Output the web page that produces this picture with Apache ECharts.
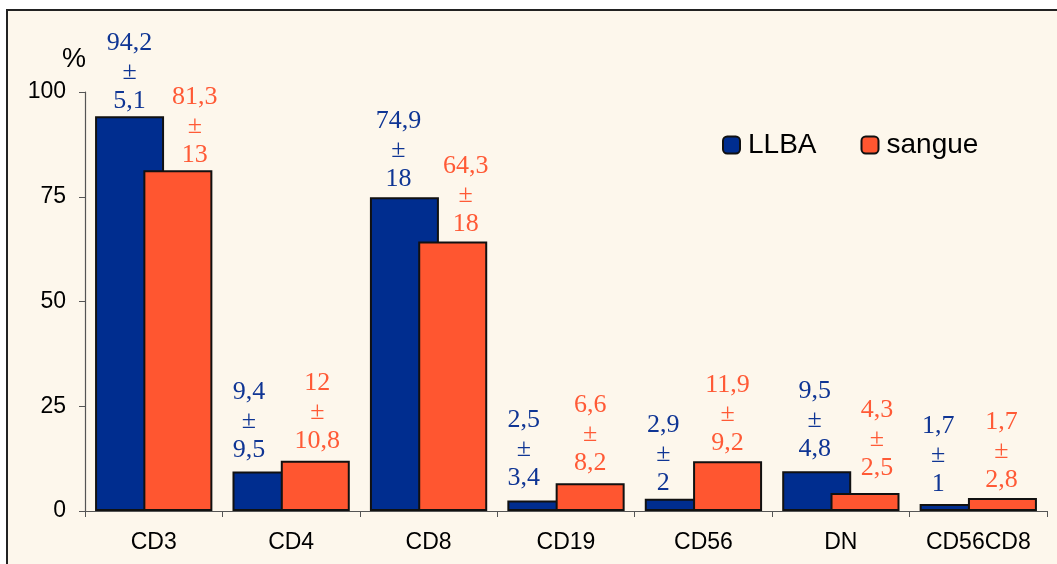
<!DOCTYPE html>
<html>
<head>
<meta charset="utf-8">
<script src="https://cdn.jsdelivr.net/npm/echarts@6/dist/echarts.min.js"></script>
<style>
html,body{margin:0;padding:0;background:#ffffff;}
#c{width:1057px;height:564px;}
</style>
</head>
<body>
<div id="c"></div>
<script>
const categories = ['CD3', 'CD4', 'CD8', 'CD19', 'CD56', 'DN', 'CD56CD8'];
const llbaMean = [94.2, 9.4, 74.9, 2.5, 2.9, 9.5, 1.7];
const llbaSd = [5.1, 9.5, 18, 3.4, 2, 4.8, 1];
const sangueMean = [81.3, 12, 64.3, 6.6, 11.9, 4.3, 1.7];
const sangueSd = [13, 10.8, 18, 8.2, 9.2, 2.5, 2.8];
// bar heights as drawn in the picture
const llbaBars = [94.2, 9.4, 74.9, 2.5, 2.9, 9.5, 1.7];
const sangueBars = [81.3, 12, 64.3, 6.6, 11.9, 4.3, 3.1];
const yTicks = [0, 25, 50, 75, 100];

// label placement (style only)
const llbaLabelOffsets = [[0,2],[-18,-4],[-6,0],[-18,-5],[-16,2],[-2,-5],[-16,-2]];
const sangueLabelOffsets = [[17,2],[2,-2],[13,0],[0,-3],[0,0],[12,-7],[-1,0]];

const fmt = v => String(v).replace('.', ',');

const BLUE = '#002d8f', ORANGE = '#ff5630';
const BLUE_T = '#0f3594', ORANGE_T = '#ff5a36';

function buildData(bars, offs) {
  return bars.map((v, i) => ({ value: v, label: { offset: offs[i] } }));
}

const chart = echarts.init(document.getElementById('c'));
chart.setOption({
  backgroundColor: '#ffffff',
  animation: false,
  graphic: [
    { type: 'rect', z: -100, silent: true,
      shape: { x: 7, y: 10, width: 1070, height: 570 },
      style: { fill: '#fdf7ec', stroke: '#222', lineWidth: 2 } },
    { type: 'text', left: 62, top: 46, z: 10,
      style: { text: '%', font: '27px "Liberation Sans", Arial', fill: '#000' } }
  ],
  legend: {
    left: 717, top: 126,
    itemWidth: 17, itemHeight: 17, itemGap: 44,
    textStyle: { fontSize: 28, fontFamily: '"Liberation Sans", Arial', color: '#000', padding: [0,0,0,3] },
    data: ['LLBA', 'sangue']
  },
  grid: { left: 85, right: 10, top: 92, bottom: 53 },
  xAxis: {
    type: 'category', data: categories,
    axisLine: { lineStyle: { color: '#555', width: 1.2 } },
    axisTick: { show: true, length: 6, alignWithLabel: false, lineStyle: { color: '#555' } },
    axisLabel: { interval: 0, fontSize: 23, fontFamily: '"Liberation Sans", Arial', color: '#000', margin: 20 }
  },
  yAxis: {
    type: 'value', min: yTicks[0], max: yTicks[yTicks.length-1], interval: 25,
    splitLine: { show: false },
    axisLine: { show: true, lineStyle: { color: '#555', width: 1.2 } },
    axisTick: { show: true, length: 6, lineStyle: { color: '#555' } },
    axisLabel: { fontSize: 23, fontFamily: '"Liberation Sans", Arial', color: '#000', margin: 19 }
  },
  series: [
    {
      name: 'LLBA', type: 'bar', barWidth: 69, barGap: '-30%',
      itemStyle: { color: BLUE, borderColor: '#111', borderWidth: 2 },
      label: {
        show: true, position: 'top', distance: 3,
        fontFamily: '"Liberation Serif", "Times New Roman", serif', fontSize: 26, lineHeight: 29,
        color: BLUE_T, align: 'center',
        formatter: p => fmt(llbaMean[p.dataIndex]) + '\n±\n' + fmt(llbaSd[p.dataIndex])
      },
      data: buildData(llbaBars, llbaLabelOffsets)
    },
    {
      name: 'sangue', type: 'bar', barWidth: 69, barGap: '-30%',
      itemStyle: { color: ORANGE, borderColor: '#111', borderWidth: 2 },
      label: {
        show: true, position: 'top', distance: 3,
        fontFamily: '"Liberation Serif", "Times New Roman", serif', fontSize: 26, lineHeight: 29,
        color: ORANGE_T, align: 'center',
        formatter: p => fmt(sangueMean[p.dataIndex]) + '\n±\n' + fmt(sangueSd[p.dataIndex])
      },
      data: buildData(sangueBars, sangueLabelOffsets)
    }
  ]
});
</script>
</body>
</html>
